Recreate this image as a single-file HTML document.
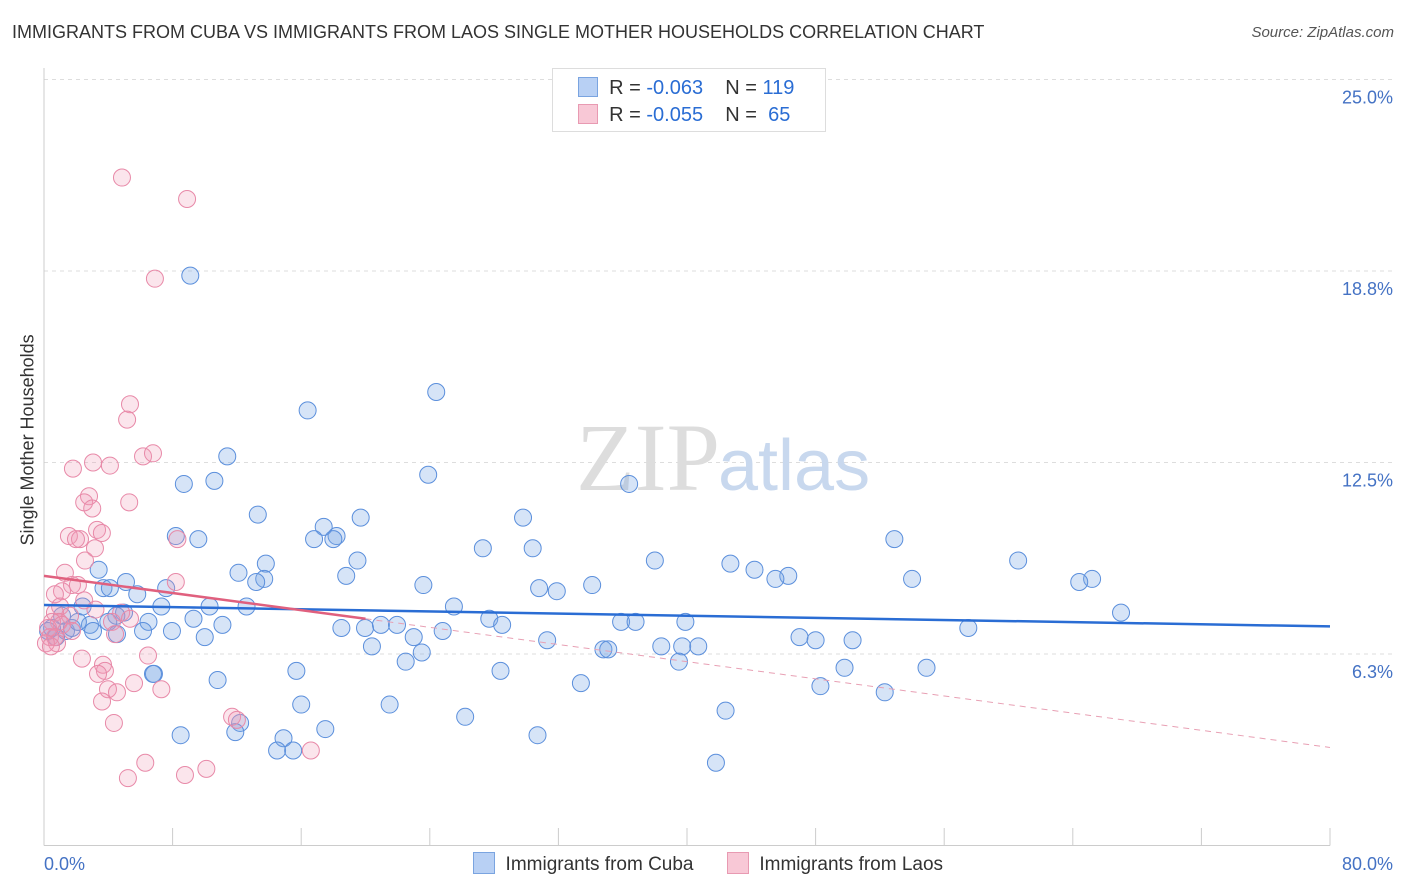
<!DOCTYPE html>
<html><head><meta charset="utf-8"><style>
body{margin:0;background:#fff;font-family:"Liberation Sans",sans-serif}
#wrap{position:relative;width:1406px;height:892px;overflow:hidden}
.t{position:absolute;white-space:nowrap}
</style></head><body>
<div id="wrap">
<div class="t" style="left:12px;top:22px;font-size:18px;color:#333">IMMIGRANTS FROM CUBA VS IMMIGRANTS FROM LAOS SINGLE MOTHER HOUSEHOLDS CORRELATION CHART</div>
<div class="t" style="right:12px;top:24px;font-size:15px;color:#555;font-style:italic">Source: ZipAtlas.com</div>
<div class="t" style="left:-62px;top:445px;font-size:18px;color:#333;transform:rotate(-90deg);transform-origin:center;width:180px;text-align:center">Single Mother Households</div>
<svg id="svg" width="1406" height="892" style="position:absolute;left:0;top:0"></svg>
</div>
<script>
const xTicks=[0,10,20,30,40,50,60,70,80];
const yTicks=[6.25,12.5,18.75,25];
const yTickLabels=["6.3%","12.5%","18.8%","25.0%"];
const cubaX=[9.1,24.4,16.4,36.4,23.9,11.4,8.7,10.6,13.3,19.7,29.8,17.4,18.2,16.8,18.0,9.6,8.2,27.3,30.4,52.9,60.6,19.5,13.8,38.0,42.7,44.2,12.1,18.8,13.7,13.2,46.3,45.5,54.0,65.2,64.4,23.6,30.8,31.9,34.1,3.4,5.1,3.7,4.1,7.6,5.8,2.4,10.3,7.3,12.6,25.5,67.0,4.98,6.5,9.3,4.5,4.0,2.86,1.12,0.5,0.75,1.37,1.74,2.11,0.25,3.05,4.54,6.16,7.96,11.1,10.0,18.5,19.97,20.96,21.96,23.0,24.8,27.7,28.5,31.3,35.9,36.8,39.9,20.4,22.5,23.5,34.8,35.1,38.4,39.7,40.7,39.5,47.0,48.0,50.3,57.5,6.84,6.78,15.7,10.8,28.4,33.4,49.8,54.9,48.3,52.3,16.0,21.5,26.2,42.4,12.2,11.9,17.5,8.5,14.9,14.5,15.5,30.7,41.8];
const cubaY=[18.6,14.8,14.2,11.8,12.1,12.7,11.8,11.9,10.8,10.7,10.7,10.4,10.1,10.0,10.0,10.0,10.1,9.7,9.7,10.0,9.3,9.3,9.2,9.3,9.2,9.0,8.9,8.8,8.7,8.6,8.8,8.7,8.7,8.7,8.6,8.5,8.4,8.3,8.5,9.0,8.6,8.4,8.4,8.4,8.2,7.8,7.8,7.8,7.8,7.8,7.6,7.6,7.3,7.4,7.5,7.3,7.2,7.5,7.1,6.8,7.0,7.1,7.3,7.0,7.0,6.9,7.0,7.0,7.2,6.8,7.1,7.1,7.2,7.2,6.8,7.0,7.4,7.2,6.7,7.3,7.3,7.3,6.5,6.0,6.3,6.4,6.4,6.5,6.5,6.5,6.0,6.8,6.7,6.7,7.1,5.6,5.6,5.7,5.4,5.7,5.3,5.8,5.8,5.2,5.0,4.6,4.6,4.2,4.4,4.0,3.7,3.8,3.6,3.5,3.1,3.1,3.6,2.7];
const laosX=[4.85,8.9,6.9,5.35,5.17,6.16,6.78,3.05,1.8,4.1,2.8,2.5,3.0,5.3,1.55,2.24,3.3,3.6,8.3,1.99,3.17,2.55,1.3,8.2,1.74,2.11,1.12,2.5,0.68,3.2,1.0,4.8,1.62,0.68,0.93,0.5,1.12,0.25,0.37,0.68,0.81,0.12,0.43,4.23,5.35,4.42,6.47,2.36,3.67,3.79,3.36,5.6,7.3,3.98,4.54,3.61,4.35,11.7,6.3,5.22,8.77,10.1,16.6,12.0,1.74];
const laosY=[21.8,21.1,18.5,14.4,13.9,12.7,12.8,12.5,12.3,12.4,11.4,11.2,11.0,11.2,10.1,10.0,10.3,10.2,10.0,10.0,9.7,9.3,8.9,8.6,8.5,8.5,8.3,8.0,8.2,7.7,7.8,7.6,7.5,7.6,7.3,7.3,7.2,7.1,6.8,6.8,6.6,6.6,6.5,7.3,7.4,6.9,6.2,6.1,5.9,5.7,5.6,5.3,5.1,5.1,5.0,4.7,4.0,4.2,2.7,2.2,2.3,2.5,3.1,4.1,7.0];
const cubaTrend=[7.85,7.15];
const laosTrend=[8.8,3.2];
const svg=document.getElementById('svg');const NS='http://www.w3.org/2000/svg';
const X0=44,X1=1330,Y0=845.5,Ypx=191.5/6.25;
const sx=v=>X0+(v/80)*(X1-X0), sy=v=>Y0-v*Ypx;
function mk(t,a,p){const e=document.createElementNS(NS,t);for(const k in a)e.setAttribute(k,a[k]);(p||svg).appendChild(e);return e;}
yTicks.forEach((v,i)=>{const l=mk('line',{x1:X0,x2:1395,y1:sy(v),y2:sy(v),stroke:'#ddd','stroke-dasharray':'4,4'});


const t=mk('text',{x:1393,y:sy(v)+24,'text-anchor':'end','font-size':18,fill:'#4472c4','font-family':'Liberation Sans'});t.textContent=yTickLabels[i];

});
mk('line',{x1:X0,x2:X0,y1:68,y2:Y0,stroke:'#ccc'});
mk('line',{x1:X0,x2:X1,y1:Y0,y2:Y0,stroke:'#ccc'});
for(let i=0;i<=10;i++){const x=sx(i*8);const l=mk('line',{x1:x,x2:x,y1:828,y2:Y0,stroke:'#ccc'});

}
[[0,'0.0%',44,'start'],[80,'80.0%',1393,'end']].forEach(d=>{const t=mk('text',{x:d[2],y:870,'text-anchor':d[3],'font-size':18,fill:'#4472c4','font-family':'Liberation Sans'});t.textContent=d[1];

});
let w=mk('text',{x:720,y:490,'text-anchor':'end','font-size':96,fill:'#ddd','font-family':'Liberation Serif'});w.textContent='ZIP';


w=mk('text',{x:718,y:490,'font-size':72,fill:'#c8d8ee','font-family':'Liberation Sans'});w.textContent='atlas';


cubaX.forEach((v,i)=>{const c=mk('circle',{cx:sx(v),cy:sy(cubaY[i]),r:8.5,fill:'rgba(120,165,230,0.3)',stroke:'#5b8fdc','stroke-width':1});

});
laosX.forEach((v,i)=>{const c=mk('circle',{cx:sx(v),cy:sy(laosY[i]),r:8.5,fill:'rgba(240,150,180,0.25)',stroke:'#e889a8','stroke-width':1});

});
let l=mk('line',{x1:sx(0),y1:sy(cubaTrend[0]),x2:sx(80),y2:sy(cubaTrend[1]),stroke:'#2a6dd4','stroke-width':2.5});


const ly=x=>laosTrend[0]+(laosTrend[1]-laosTrend[0])*x/80;
l=mk('line',{x1:sx(0),y1:sy(ly(0)),x2:sx(20),y2:sy(ly(20)),stroke:'#e0607e','stroke-width':2.5});


l=mk('line',{x1:sx(20),y1:sy(ly(20)),x2:sx(80),y2:sy(ly(80)),stroke:'#e8a0b4','stroke-width':1,'stroke-dasharray':'6,5'});


</script>
<div class="t" style="left:552px;top:68px;width:272px;height:62px;border:1px solid #ddd;background:#fff;font-size:20px;color:#333">
 <div style="position:absolute;left:25px;top:8px"><span style="display:inline-block;width:18px;height:18px;background:#b8d0f4;border:1px solid #7aa4e0;vertical-align:-3px"></span>&nbsp; R = <span style="color:#2a6dd4">-0.063</span>&nbsp;&nbsp;&nbsp; N = <span style="color:#2a6dd4">119</span></div>
 <div style="position:absolute;left:25px;top:35px"><span style="display:inline-block;width:18px;height:18px;background:#f8c8d6;border:1px solid #e89ab2;vertical-align:-3px"></span>&nbsp; R = <span style="color:#2a6dd4">-0.055</span>&nbsp;&nbsp;&nbsp; N = &nbsp;<span style="color:#2a6dd4">65</span></div>
</div>
<div class="t" style="left:473px;top:852px;font-size:19px;color:#333">
 <span><span style="display:inline-block;width:20px;height:20px;background:#b8d0f4;border:1px solid #7aa4e0;vertical-align:-4px"></span>&nbsp; Immigrants from Cuba</span>
 <span style="margin-left:28px"><span style="display:inline-block;width:20px;height:20px;background:#f8c8d6;border:1px solid #e89ab2;vertical-align:-4px"></span>&nbsp; Immigrants from Laos</span>
</div>
</body></html>
